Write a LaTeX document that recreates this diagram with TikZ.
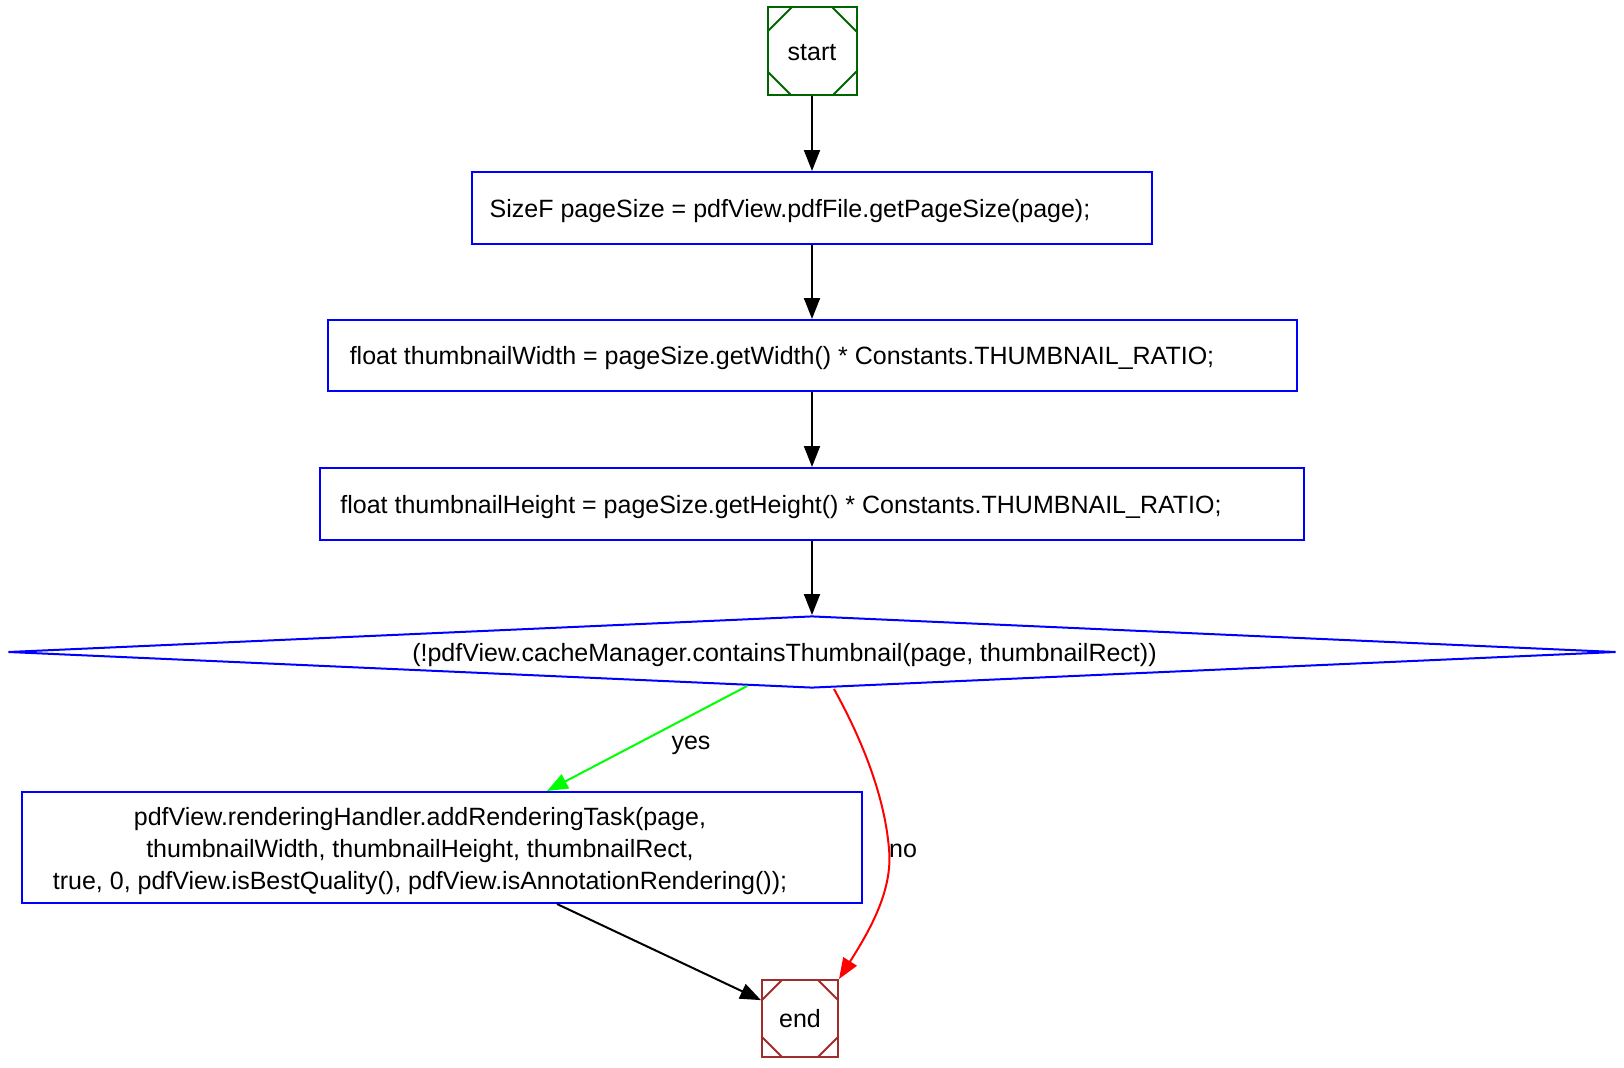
\documentclass[tikz,border=0pt]{standalone}
\usepackage{fontspec}
\setmainfont{Liberation Sans}
\usetikzlibrary{shapes.geometric,arrows.meta,calc}
\definecolor{startgreen}{RGB}{0,100,0}
\definecolor{endbrown}{RGB}{160,44,44}
\definecolor{yesgreen}{RGB}{0,255,0}

\begin{document}
\begin{tikzpicture}[x=0.6pt,y=-0.6pt]
% define box types
\tikzstyle{stmt}=[draw=blue, line width=1.2pt, rectangle, inner sep=0pt,
    minimum height=43.2pt, text height=14.2pt, text depth=3pt,
    font=\fontsize{15}{19.3}\selectfont]
\tikzstyle{cond}=[draw=blue, line width=1.2pt, diamond, aspect=22, inner sep=0pt,
    minimum width=964.8pt, minimum height=43.2pt, text height=14.2pt, text depth=3pt,
    font=\fontsize{15}{19.3}\selectfont]
\tikzset{term/.style 2 args={draw=#1, line width=1.2pt, rectangle, inner sep=0pt,
    text height=14.2pt, text depth=3pt, font=\fontsize{15}{19.3}\selectfont,
    path picture={
      \draw[#1, line width=1.2pt] ([yshift=-#2]path picture bounding box.north west) -- ([xshift=#2]path picture bounding box.north west);
      \draw[#1, line width=1.2pt] ([xshift=-#2]path picture bounding box.north east) -- ([yshift=-#2]path picture bounding box.north east);
      \draw[#1, line width=1.2pt] ([yshift=#2]path picture bounding box.south west) -- ([xshift=#2]path picture bounding box.south west);
      \draw[#1, line width=1.2pt] ([xshift=-#2]path picture bounding box.south east) -- ([yshift=#2]path picture bounding box.south east);
    }}}
\tikzstyle{lbl}=[font=\fontsize{15}{19.3}\selectfont]
\tikzstyle{a}=[line width=1.2pt,-{Triangle[length=12.5pt,width=9.5pt]}]
\useasboundingbox (0,0) rectangle (1624,1068);
% terminals
\node[term={startgreen}{14.4pt}, minimum width=53.4pt, minimum height=52.8pt] (start) at (812,51.5) {start};
\node[term={endbrown}{12pt}, minimum width=45.6pt, minimum height=46.2pt] (endn) at (800,1018.5) {end};
% statements
\node[stmt, minimum width=408pt] (size) at (812,208)
    {SizeF pageSize = pdfView.pdfFile.getPageSize(page);\kern26.4pt};
\node[stmt, minimum width=581.4pt, minimum height=42.6pt] (width) at (812,355.5)
    {float thumbnailWidth = pageSize.getWidth() * Constants.THUMBNAIL\_RATIO;\kern36pt};
\node[stmt, minimum width=590.4pt] (height) at (812,504)
    {float thumbnailHeight = pageSize.getHeight() * Constants.THUMBNAIL\_RATIO;\kern37.2pt};
\node[cond] (check) at (812,652)
    {(!pdfView.cacheManager.containsThumbnail(page, thumbnailRect))\kern33pt};
\node[stmt, minimum width=504pt, minimum height=66.6pt, text height=, text depth=] (task) at (442,847.5)
    {\raisebox{-2.2pt}[\height][\depth]{\begin{tabular}{@{}c@{}}pdfView.renderingHandler.addRenderingTask(page,\\
     thumbnailWidth, thumbnailHeight, thumbnailRect,\\
     true, 0, pdfView.isBestQuality(), pdfView.isAnnotationRendering());\end{tabular}}\kern26.4pt};
% edge labels
\node[lbl] (yes) at (691,745) {yes};
\node[lbl] (no) at (903,851) {no};
% edges
\draw[a] (start) -- (size);
\draw[a] (size) -- (width);
\draw[a] (width) -- (height);
\draw[a] (height) -- (check);
\draw[a, yesgreen] (check) -- ($(task.north)+(105,0)$);
\draw[a, red] ($(check.south)+(22,0)$) .. controls (865,745) and (885,800) .. (889,849)
    .. controls (893,890) and (870,930) .. (endn.north east);
\draw[a] ($(task.south)+(115,0)$) -- (endn);
\end{tikzpicture}
\end{document}
